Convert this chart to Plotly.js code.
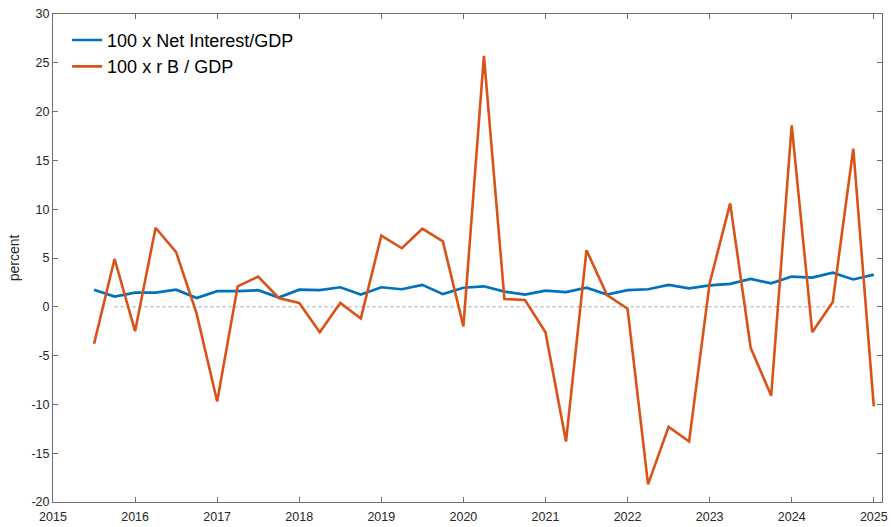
<!DOCTYPE html>
<html>
<head>
<meta charset="utf-8">
<script src="https://cdn.plot.ly/plotly-3.0.1.min.js"></script>
<style>
  html, body { margin: 0; padding: 0; background: #fff; }
  #chart { width: 891px; height: 527px; }
</style>
</head>
<body>
<div id="chart"></div>
<script>
// Quarterly observations, 2015Q3 .. 2025Q1 (decimal years)
const quarters = [
  2015.5, 2015.75,
  2016.0, 2016.25, 2016.5, 2016.75,
  2017.0, 2017.25, 2017.5, 2017.75,
  2018.0, 2018.25, 2018.5, 2018.75,
  2019.0, 2019.25, 2019.5, 2019.75,
  2020.0, 2020.25, 2020.5, 2020.75,
  2021.0, 2021.25, 2021.5, 2021.75,
  2022.0, 2022.25, 2022.5, 2022.75,
  2023.0, 2023.25, 2023.5, 2023.75,
  2024.0, 2024.25, 2024.5, 2024.75,
  2025.0
];

// 100 x Net Interest / GDP
const netInterest = [
  1.75, 1.05,
  1.45, 1.45, 1.75, 0.9,
  1.6, 1.6, 1.7, 0.95,
  1.75, 1.7, 2.0, 1.25,
  2.0, 1.8, 2.25, 1.3,
  1.95, 2.1, 1.55, 1.25,
  1.65, 1.5, 1.95, 1.25,
  1.7, 1.8, 2.25, 1.9,
  2.2, 2.35, 2.85, 2.4,
  3.1, 3.0, 3.5, 2.8,
  3.3
];

// 100 x r B / GDP
const rBGdp = [
  -3.8, 4.9,
  -2.5, 8.1, 5.6, -0.7,
  -9.7, 2.1, 3.1, 0.9,
  0.4, -2.6, 0.4, -1.2,
  7.3, 6.0, 8.0, 6.7,
  -2.0, 25.7, 0.8, 0.7,
  -2.6, -13.8, 5.8, 1.2,
  -0.2, -18.2, -12.3, -13.8,
  2.4, 10.6, -4.2, -9.1,
  18.6, -2.6, 0.5, 16.2,
  -10.2
];

const yTicks = [-20, -15, -10, -5, 0, 5, 10, 15, 20, 25, 30];
const xTicks = [2015, 2016, 2017, 2018, 2019, 2020, 2021, 2022, 2023, 2024, 2025];
const zeroLineSpan = [2015.75, 2024.75];

const axisColor = '#6e6e6e';
const textColor = '#262626';
const fontFamily = 'Liberation Sans, Arial, Helvetica, sans-serif';

const traces = [
  {
    x: quarters, y: netInterest, type: 'scatter', mode: 'lines',
    name: '100 x Net Interest/GDP',
    line: { color: '#0072BD', width: 2.7 }
  },
  {
    x: quarters, y: rBGdp, type: 'scatter', mode: 'lines',
    name: '100 x r B / GDP',
    line: { color: '#D95319', width: 2.6 }
  }
];

const axisCommon = {
  showgrid: false,
  zeroline: false,
  showline: true,
  linecolor: axisColor,
  linewidth: 1,
  mirror: 'allticks',
  ticks: 'inside',
  ticklen: 5,
  tickwidth: 1,
  tickcolor: axisColor,
  tickfont: { family: fontFamily, size: 12.5, color: textColor }
};

const layout = {
  width: 891,
  height: 527,
  margin: { l: 53, r: 9, t: 14, b: 25 },
  paper_bgcolor: '#ffffff',
  plot_bgcolor: '#ffffff',
  showlegend: true,
  legend: {
    x: 0.017, y: 0.984, xanchor: 'left', yanchor: 'top',
    xref: 'paper', yref: 'paper',
    bgcolor: 'rgba(255,255,255,0)',
    borderwidth: 0,
    font: { family: fontFamily, size: 18, color: '#000000' },
    tracegroupgap: 0
  },
  xaxis: Object.assign({}, axisCommon, {
    range: [2015, 2025.1],
    tickvals: xTicks,
    ticktext: xTicks.map(String),
    ticklabelstandoff: 3
  }),
  yaxis: Object.assign({}, axisCommon, {
    range: [-20, 30],
    tickvals: yTicks,
    ticktext: yTicks.map(String),
    title: { text: 'percent', font: { family: fontFamily, size: 14, color: textColor }, standoff: 8 }
  }),
  shapes: [
    {
      type: 'line', xref: 'x', yref: 'y',
      x0: zeroLineSpan[0], x1: zeroLineSpan[1], y0: 0, y1: 0,
      line: { color: '#a8a8a8', width: 1, dash: 'dot' },
      layer: 'below'
    }
  ]
};

Plotly.newPlot('chart', traces, layout, { staticPlot: true, displayModeBar: false });
</script>
</body>
</html>
